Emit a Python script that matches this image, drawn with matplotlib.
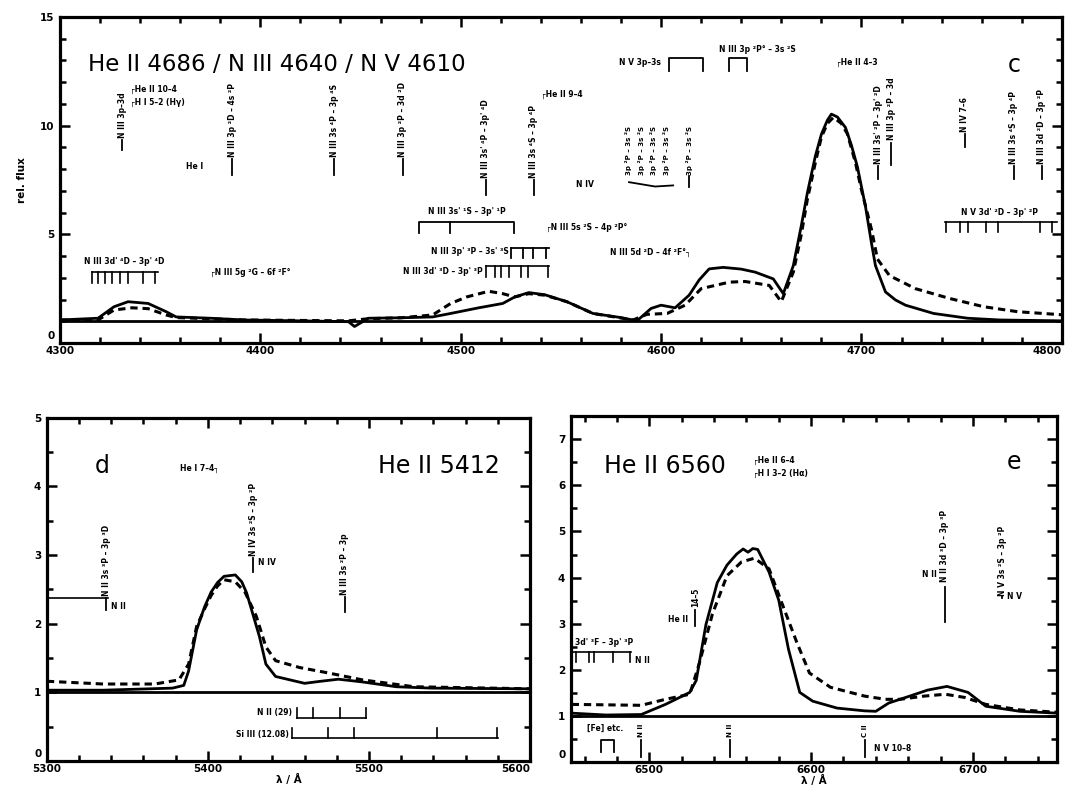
import numpy as np
import matplotlib
matplotlib.use("Agg")
import matplotlib.pyplot as plt
from matplotlib.ticker import MultipleLocator
from matplotlib.transforms import ScaledTranslation

# ---- panel c: He II 4686 region (wavelength / rel. flux)
c_obs_wl = [4300, 4319, 4327, 4334, 4344, 4353, 4358, 4375, 4392, 4420, 4444, 4447, 4454,
            4470, 4486, 4495, 4509, 4521, 4527, 4534, 4542, 4553, 4566, 4580, 4588, 4595,
            4600, 4607, 4614, 4619, 4624, 4631, 4640, 4647, 4656, 4661, 4666, 4670, 4673,
            4677, 4680, 4683, 4685, 4688, 4692, 4695, 4698, 4702, 4705, 4707, 4712, 4717,
            4722, 4736, 4753, 4769, 4800]
c_obs_fl = [1.06, 1.14, 1.67, 1.90, 1.82, 1.44, 1.20, 1.14, 1.06, 1.02, 0.98, 0.76, 1.14,
            1.16, 1.20, 1.36, 1.62, 1.82, 2.12, 2.32, 2.22, 1.90, 1.36, 1.17, 1.02, 1.59,
            1.74, 1.62, 2.20, 2.90, 3.41, 3.48, 3.40, 3.26, 2.95, 2.27, 3.56, 5.40, 6.90,
            8.60, 9.60, 10.25, 10.53, 10.40, 9.92, 9.10, 8.10, 6.29, 4.60, 3.56, 2.35, 1.98,
            1.74, 1.36, 1.14, 1.06, 1.02]
c_mod_wl = [4300, 4319, 4327, 4336, 4344, 4353, 4358, 4392, 4444, 4454, 4470, 4486, 4495,
            4503, 4514, 4521, 4527, 4534, 4542, 4553, 4566, 4586, 4593, 4603, 4612, 4620,
            4634, 4642, 4654, 4660, 4666, 4670, 4673, 4677, 4680, 4683, 4686, 4690, 4693,
            4697, 4700, 4705, 4708, 4714, 4727, 4744, 4761, 4778, 4800]
c_mod_fl = [1.06, 1.06, 1.52, 1.62, 1.58, 1.29, 1.17, 1.06, 1.02, 1.12, 1.16, 1.29, 1.82,
            2.12, 2.38, 2.27, 2.12, 2.27, 2.20, 1.90, 1.36, 1.06, 1.32, 1.36, 1.74, 2.50,
            2.80, 2.83, 2.65, 1.90, 3.26, 5.00, 6.60, 8.30, 9.47, 10.10, 10.38, 10.10, 9.62,
            8.30, 7.05, 5.23, 3.86, 3.10, 2.50, 2.05, 1.67, 1.44, 1.30]

# ---- panel d: He II 5412
d_obs_wl = [5300, 5335, 5378, 5385, 5388, 5393, 5398, 5402, 5406, 5410, 5417, 5421, 5424,
            5427, 5432, 5436, 5442, 5460, 5470, 5481, 5496, 5517, 5539, 5600]
d_obs_fl = [1.03, 1.03, 1.06, 1.10, 1.31, 1.91, 2.25, 2.46, 2.60, 2.69, 2.71, 2.61, 2.45,
            2.21, 1.81, 1.41, 1.23, 1.13, 1.16, 1.19, 1.15, 1.08, 1.06, 1.05]
d_mod_wl = [5300, 5335, 5367, 5382, 5388, 5393, 5398, 5402, 5406, 5410, 5417, 5423, 5430,
            5436, 5442, 5457, 5475, 5496, 5528, 5600]
d_mod_fl = [1.16, 1.12, 1.12, 1.18, 1.41, 1.96, 2.22, 2.41, 2.55, 2.64, 2.61, 2.46, 2.11,
            1.66, 1.46, 1.36, 1.28, 1.18, 1.08, 1.05]

# ---- panel e: He II 6560
e_obs_wl = [6452, 6473, 6495, 6510, 6525, 6529, 6535, 6542, 6548, 6554, 6558, 6561, 6564,
            6567, 6570, 6574, 6580, 6586, 6593, 6601, 6616, 6633, 6640, 6648, 6661, 6672,
            6684, 6697, 6708, 6729, 6752]
e_obs_fl = [1.06, 1.02, 1.03, 1.25, 1.51, 1.77, 2.98, 3.89, 4.27, 4.51, 4.62, 4.55, 4.63,
            4.61, 4.40, 4.12, 3.51, 2.45, 1.51, 1.32, 1.17, 1.11, 1.10, 1.28, 1.43, 1.56,
            1.64, 1.51, 1.21, 1.10, 1.06]
e_mod_wl = [6452, 6495, 6510, 6525, 6531, 6539, 6548, 6557, 6565, 6574, 6582, 6591, 6599,
            6612, 6633, 6646, 6655, 6670, 6683, 6695, 6708, 6729, 6752]
e_mod_fl = [1.25, 1.23, 1.36, 1.47, 2.15, 3.21, 4.04, 4.34, 4.42, 4.19, 3.44, 2.61, 1.93,
            1.62, 1.43, 1.36, 1.36, 1.43, 1.47, 1.40, 1.25, 1.13, 1.08]

# line identifications (wavelength, label)
c_vert_ids = [(4331, "N III 3p–3d"), (4386, "N III 3p ²D – 4s ²P"), (4437, "N III 3s ⁴P – 3p ⁴S"),
              (4471, "N III 3p ²P – 3d ²D"), (4512.5, "N III 3s' ⁴P – 3p' ⁴D"),
              (4536.5, "N III 3s ⁴S – 3p ⁴P")]
c_block_wl = [4583.5, 4590, 4596, 4602.5, 4614]
c_right_ids = [(4708.5, "N III 3s' ²P – 3p' ²D"), (4751.5, "N IV 7–6"),
               (4776, "N III 3s ⁴S – 3p ⁴P"), (4790, "N III 3d ²D – 3p ²P")]

plt.rcParams['font.family'] = ['DejaVu Sans']
BOLD = 'bold'

fig = plt.figure(figsize=(10.65, 7.86), dpi=100)
axc = fig.add_axes([0.0563, 0.5636, 0.9407, 0.4148])
axd = fig.add_axes([0.044, 0.032, 0.4537, 0.4364])
axe = fig.add_axes([0.536, 0.0305, 0.4565, 0.440])


def style(ax, xlim, ylim, xmaj, ymaj, ymin):
    ax.set_xlim(*xlim)
    ax.set_ylim(*ylim)
    ax.xaxis.set_major_locator(MultipleLocator(xmaj))
    ax.xaxis.set_minor_locator(MultipleLocator(20))
    ax.yaxis.set_major_locator(MultipleLocator(ymaj))
    ax.yaxis.set_minor_locator(MultipleLocator(ymin))
    ax.tick_params(which='both', direction='in', top=True, right=True, width=1.8,
                   labelsize=7.5)
    ax.tick_params(axis='x', pad=2)
    ax.tick_params(axis='y', pad=4)
    ax.tick_params(which='major', length=7)
    ax.tick_params(which='minor', length=4)
    for sp in ax.spines.values():
        sp.set_linewidth(2.3)
    ax.axhline(1.0, color='black', lw=2.0)
    xt = ax.xaxis.get_major_ticks()
    for t in xt + ax.yaxis.get_major_ticks():
        t.label1.set_fontweight(BOLD)
    locs = ax.xaxis.get_majorticklocs()
    for t, loc in zip(xt, locs):
        if abs(loc - xlim[1]) < 1:
            t.label1.set_horizontalalignment('right')
    ylocs = ax.yaxis.get_majorticklocs()
    for t, loc in zip(ax.yaxis.get_major_ticks(), ylocs):
        if abs(loc) < 1e-6:
            # the "0" sits just above the corner, as in the scan
            lab = t.label1
            lab.set_transform(lab.get_transform()
                              + ScaledTranslation(0, 6 / 72, fig.dpi_scale_trans))


def spectra(ax, wo, fo, wm, fm):
    ax.plot(wo, fo, color='black', lw=2.0, solid_joinstyle='round')
    ax.plot(wm, fm, color='black', lw=2.2, ls=(0, (2.4, 1.6)))


def vid(ax, x, ybot, tick, text, fs=5.5):
    # vertical line identification: short tick with rotated label on top
    ax.plot([x, x], [ybot, ybot + tick], color='black', lw=1.3)
    ax.text(x, ybot + tick * 1.15, text, rotation=90, ha='center', va='bottom',
            fontsize=fs, fontweight=BOLD)


def comb(ax, x0, x1, y, ticks, down, lw=1.2):
    ax.plot([x0, x1], [y, y], color='black', lw=lw)
    for t in ticks:
        ax.plot([t, t], [y, y - down], color='black', lw=lw)


def txt(ax, x, y, s, fs=5.5, ha='left', va='center', **kw):
    ax.text(x, y, s, fontsize=fs, fontweight=BOLD, ha=ha, va=va, **kw)


# ---------------- panel c
style(axc, (4300, 4800), (0, 15), 100, 5, 1)
spectra(axc, c_obs_wl, c_obs_fl, c_mod_wl, c_mod_fl)
axc.set_ylabel('rel. flux', fontsize=7.5, fontweight=BOLD, labelpad=9)
axc.text(4314, 12.8, 'He II 4686 / N III 4640 / N V 4610', fontsize=16.5, va='center')
axc.text(4773, 12.8, 'c', fontsize=17, va='center')

tick_bottoms = [8.9, 7.75, 7.75, 7.75, 6.8, 6.8]
tick_lens = [0.45, 0.7, 0.7, 0.7, 0.7, 0.7]
for (w, s), yb, tl in zip(c_vert_ids, tick_bottoms, tick_lens):
    vid(axc, w, yb, tl, s)
txt(axc, 4335, 11.66, '┌He II 10–4')
txt(axc, 4335, 11.06, '┌H I 5–2 (Hγ)')
txt(axc, 4367, 8.1, 'He I', ha='center')
txt(axc, 4540, 11.43, '┌He II 9–4')
txt(axc, 4562, 7.28, 'N IV', ha='center')

# N III 3p-3s multiplet block
for w in c_block_wl:
    axc.text(w, 7.75, "3p ²P – 3s ²S", rotation=90, ha='center', va='bottom',
             fontsize=5, fontweight=BOLD)
axc.plot([4584, 4597, 4606], [7.4, 7.2, 7.25], color='black', lw=1.3)
axc.plot([4614, 4614], [7.2, 7.7], color='black', lw=1.3)

txt(axc, 4600, 12.9, 'N V 3p–3s', ha='right')
axc.plot([4604, 4604, 4621, 4621], [12.5, 13.1, 13.1, 12.5], color='black', lw=1.3)
txt(axc, 4629, 13.5, 'N III 3p ²P° – 3s ²S')
axc.plot([4634, 4634, 4643, 4643], [12.5, 13.1, 13.1, 12.5], color='black', lw=1.3)
txt(axc, 4687.5, 12.9, '┌He II 4–3')

vid(axc, 4715, 8.2, 1.0, "N III 3p ²P – 3d")
for (w, s) in c_right_ids:
    yb = 7.55 if w != 4751.5 else 9.0
    vid(axc, w, yb, 0.6, s)

txt(axc, 4769, 6.0, "N V 3d' ²D – 3p' ²P", ha='center')
comb(axc, 4741.5, 4797.5, 5.58, [4742, 4749, 4753, 4762, 4768, 4789, 4795], 0.48)

txt(axc, 4332, 3.73, "N III 3d' ⁴D – 3p' ⁴D", ha='center')
comb(axc, 4316, 4349, 3.27, [4316, 4319, 4322.5, 4326, 4330, 4334, 4341.5, 4347.5], 0.5)
txt(axc, 4375, 3.27, "┌N III 5g ²G – 6f ²F°")

txt(axc, 4503, 6.04, "N III 3s' ¹S – 3p' ¹P", ha='center')
axc.plot([4479, 4479, 4526.5, 4526.5], [5.07, 5.58, 5.58, 5.07], color='black', lw=1.3)
axc.plot([4494.5, 4494.5], [5.58, 5.07], color='black', lw=1.3)
txt(axc, 4524, 4.19, "N III 3p' ³P – 3s' ³S", ha='right')
axc.plot([4525, 4544], [4.38, 4.38], color='black', lw=1.3)
for t in [4525, 4531, 4536, 4542.5]:
    axc.plot([t, t], [4.38, 3.92], color='black', lw=1.3)
txt(axc, 4511, 3.27, "N III 3d' ³D – 3p' ³P", ha='right')
comb(axc, 4512.5, 4544, 3.55, [4512.5, 4517, 4520, 4524, 4530, 4533.5, 4543.5], 0.5)
txt(axc, 4542.5, 5.3, "┌N III 5s ²S – 4p ²P°")
txt(axc, 4615, 4.19, "N III 5d ²D – 4f ²F°┐", ha='right')

# ---------------- panel d
style(axd, (5300, 5600), (0, 5), 100, 1, 0.5)
spectra(axd, d_obs_wl, d_obs_fl, d_mod_wl, d_mod_fl)
axd.set_xlabel('λ / Å', fontsize=7.5, fontweight=BOLD, labelpad=0)
axd.text(5330, 4.3, 'd', fontsize=17, va='center')
axd.text(5581, 4.3, 'He II 5412', fontsize=17, ha='right', va='center')
txt(axd, 5395, 4.27, 'He I 7–4┐', ha='center')
vid(axd, 5428, 2.75, 0.2, "N IV 3s ²S – 3p ²P")
txt(axd, 5431, 2.89, 'N IV')
vid(axd, 5337, 2.2, 0.18, "N II 3s ³P – 3p ³D")
axd.plot([5300, 5338], [2.38, 2.38], color='black', lw=1.2)
txt(axd, 5340, 2.25, 'N II')
vid(axd, 5485, 2.17, 0.22, "N III 3s ²P – 3p")
txt(axd, 5452, 0.70, 'N II (29)', ha='right')
comb(axd, 5455, 5498, 0.63, [5455, 5465, 5482, 5498], -0.14)
txt(axd, 5450, 0.38, 'Si III (12.08)', ha='right')
comb(axd, 5452, 5580, 0.33, [5452, 5474.5, 5491, 5542, 5579.5], -0.15)

# ---------------- panel e
style(axe, (6451.5, 6752), (0, 7.5), 100, 1, 0.5)
spectra(axe, e_obs_wl, e_obs_fl, e_mod_wl, e_mod_fl)
axe.set_xlabel('λ / Å', fontsize=7.5, fontweight=BOLD, labelpad=0)
axe.text(6472, 6.43, 'He II 6560', fontsize=17, va='center')
axe.text(6721, 6.5, 'e', fontsize=17, va='center')
txt(axe, 6564, 6.54, '┌He II 6–4')
txt(axe, 6564, 6.26, '┌H I 3–2 (Hα)')
vid(axe, 6682.5, 3.04, 0.75, "N II 3d ³D – 3p ³P", fs=5.5)
txt(axe, 6678, 4.07, 'N II', ha='right')
vid(axe, 6718, 3.55, 0.05, "N V 3s ²S – 3p ²P")
txt(axe, 6721, 3.6, 'N V')
vid(axe, 6528.5, 2.95, 0.35, "14–5")
txt(axe, 6524, 3.1, 'He II', ha='right')
txt(axe, 6472, 2.59, "3d' ³F – 3p' ³P", ha='center')
comb(axe, 6451.5, 6488.8, 2.39, [6454.5, 6463, 6466, 6477.5, 6488], 0.22)
txt(axe, 6491, 2.2, 'N II')
txt(axe, 6473, 0.72, '[Fe] etc.', ha='center')
axe.plot([6470, 6470, 6478, 6478], [0.22, 0.48, 0.48, 0.22], color='black', lw=1.3)
for w, s in [(6495, 'N II'), (6549.6, 'N II'), (6633.5, 'C II')]:
    axe.plot([w, w], [0.1, 0.48], color='black', lw=1.3)
    axe.text(w, 0.55, s, rotation=90, ha='center', va='bottom', fontsize=5, fontweight=BOLD)
txt(axe, 6639, 0.3, 'N V 10–8')

fig.savefig('out.png', dpi=100)
